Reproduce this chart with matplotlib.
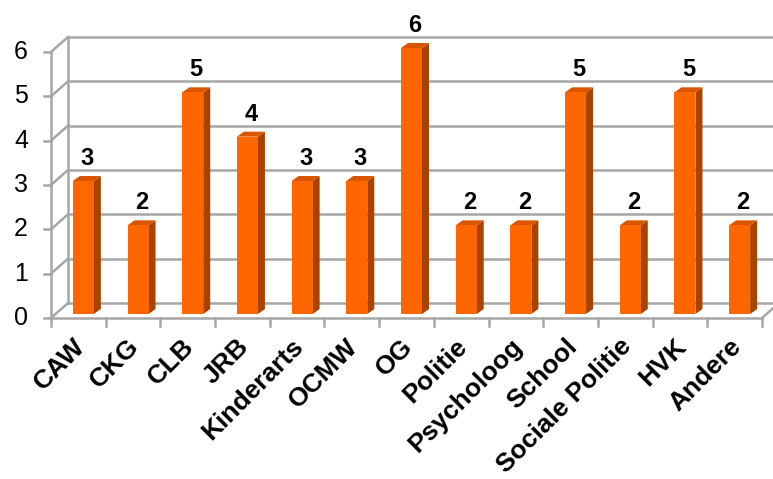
import matplotlib
matplotlib.use("Agg")
import matplotlib.pyplot as plt
from matplotlib.patches import Polygon

categories = ["CAW", "CKG", "CLB", "JRB", "Kinderarts", "OCMW", "OG", "Politie",
              "Psycholoog", "School", "Sociale Politie", "HVK", "Andere"]
counts = [3, 2, 5, 4, 3, 3, 6, 2, 2, 5, 2, 5, 2]
y_ticks = [0, 1, 2, 3, 4, 5, 6]

plt.rcParams['font.family'] = ['Liberation Sans', 'DejaVu Sans']

W, H = 773, 479
fig = plt.figure(figsize=(W / 100, H / 100), dpi=100)
# front plane: x 51..762 px, y 318 (0) .. 52 (6) px from top
ax = fig.add_axes([51 / W, (H - 318) / H, 711 / W, 266 / H])
n = len(categories)
ax.set_xlim(0, n)
ax.set_ylim(0, 6)
ax.axis('off')

# depth offset of the back wall, in data units
px_x = n / 711
px_y = 6 / 266
dx, dy = 17 * px_x, 15 * px_y
grid_c = '#a6a6a6'
lw = 1.8

# back wall gridlines, left wall diagonals
for v in y_ticks:
    ax.plot([dx, n + dx], [v + dy, v + dy], color=grid_c, lw=lw, clip_on=False, zorder=1)
    ax.plot([0, dx], [v, v + dy], color=grid_c, lw=lw, clip_on=False, zorder=1)
    ax.plot([-7 * px_x, 0], [v, v], color=grid_c, lw=lw, clip_on=False, zorder=1)
    ax.text(-23 * px_x, v, str(v), ha='right', va='center', fontsize=18, color='black')
ax.plot([dx, dx], [dy, 6 + dy], color=grid_c, lw=lw, clip_on=False, zorder=1)
# front axes
ax.plot([0, 0], [0, 6], color=grid_c, lw=lw, clip_on=False, zorder=1)
ax.plot([0, n], [0, 0], color=grid_c, lw=lw, clip_on=False, zorder=1)
ax.plot([n, n + dx], [0, dy], color=grid_c, lw=lw, clip_on=False, zorder=1)
for i in range(n + 1):
    ax.plot([i, i], [0, -8 * px_y], color=grid_c, lw=lw, clip_on=False, zorder=1)

# bars
bw = 21 * px_x
sx, sy = 7 * px_x, 5 * px_y
ox, oy = 5 * px_x, 4 * px_y
for i, v in enumerate(counts):
    x0 = i + 0.5 - bw / 2 + ox
    y0 = oy
    y1 = v + oy
    ax.add_patch(Polygon([(x0 + bw, y0), (x0 + bw + sx, y0 + sy), (x0 + bw + sx, y1 + sy), (x0 + bw, y1)],
                         closed=True, fc='#a84300', ec='none', zorder=3, clip_on=False))
    ax.add_patch(Polygon([(x0, y1), (x0 + sx, y1 + sy), (x0 + bw + sx, y1 + sy), (x0 + bw, y1)],
                         closed=True, fc='#d95500', ec='none', zorder=3, clip_on=False))
    ax.add_patch(Polygon([(x0, y0), (x0 + bw, y0), (x0 + bw, y1), (x0, y1)],
                         closed=True, fc='#ff6600', ec='none', zorder=4, clip_on=False))
    ax.text(x0 + (bw + sx) / 2, y1 + sy + 11 * px_y, str(v), ha='center', va='baseline',
            fontsize=17, fontweight='bold', color='black')

for i, lab in enumerate(categories):
    ax.text(i + 0.5 - 6 * px_x, -16 * px_y, lab, rotation=45, rotation_mode='anchor',
            ha='right', va='top', fontsize=19, fontweight='bold', color='black')

fig.savefig("out.png", dpi=100)
